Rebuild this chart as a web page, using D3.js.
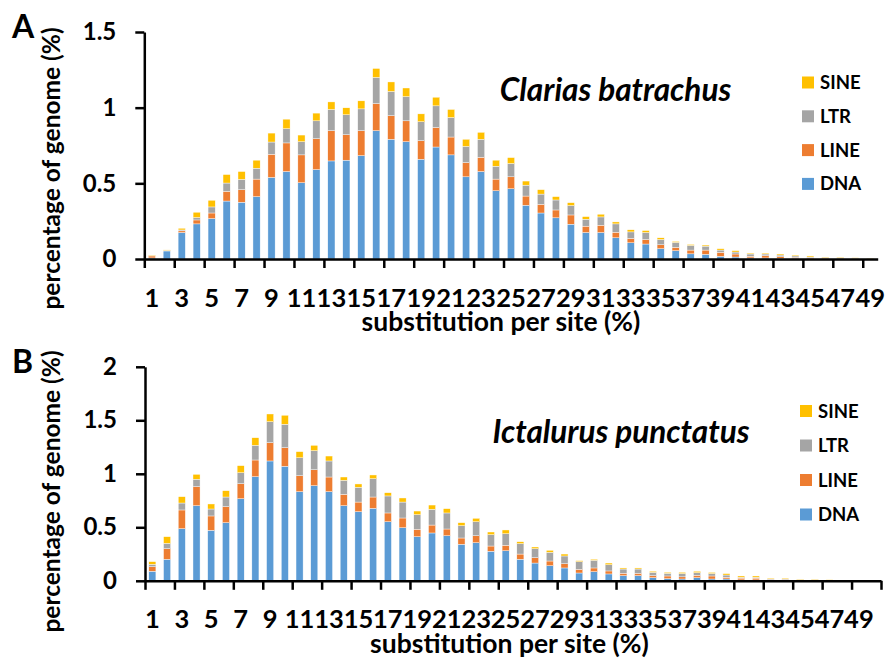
<!DOCTYPE html>
<html lang="en">
<head>
<meta charset="UTF-8">
<title>Substitution per site</title>
<script src="https://cdn.jsdelivr.net/npm/d3@7"></script>
<style>
  body { margin: 0; background: #fff; }
  svg { display: block; font-family: Lato, "Open Sans", sans-serif; font-weight: bold; }
  .axis path, .axis line { stroke: #000; stroke-width: 2.5; }
  .axis text { font-family: Lato, sans-serif; font-weight: bold; fill: #000; }
</style>
</head>
<body>
<svg width="886" height="658"></svg>
<script>
// series order bottom -> top
const series = ['DNA', 'LINE', 'LTR', 'SINE'];
const colors = { DNA: '#5B9BD5', LINE: '#ED7D31', LTR: '#A5A5A5', SINE: '#FFC000' };

// Panel A: Clarias batrachus, substitution 1..49 (%)
const catsA = d3.range(1, 50);
const dnaA  = [0.007,0.053,0.175,0.232,0.267,0.383,0.375,0.412,0.539,0.578,0.504,0.591,0.648,0.653,0.683,0.848,0.791,0.775,0.659,0.740,
               0.688,0.543,0.578,0.451,0.464,0.355,0.304,0.272,0.230,0.175,0.175,0.140,0.107,0.099,0.068,0.055,0.034,0.031,0.018,0.013,
               0.007,0.007,0.005,0.004,0.003,0.002,0.002,0.001,0.001];
const lineA = [0.013,0.002,0.011,0.026,0.037,0.064,0.083,0.116,0.153,0.189,0.184,0.204,0.200,0.168,0.165,0.179,0.156,0.138,0.123,0.129,
               0.118,0.094,0.094,0.077,0.079,0.061,0.057,0.052,0.061,0.042,0.048,0.037,0.029,0.030,0.026,0.022,0.025,0.028,0.026,0.020,
               0.011,0.015,0.010,0.007,0.006,0.004,0.003,0.002,0.002];
const ltrA  = [0.003,0.002,0.006,0.016,0.040,0.055,0.068,0.072,0.081,0.094,0.087,0.118,0.140,0.132,0.144,0.173,0.160,0.160,0.125,0.143,
               0.129,0.107,0.119,0.085,0.088,0.072,0.068,0.066,0.062,0.046,0.055,0.055,0.043,0.046,0.035,0.033,0.031,0.026,0.015,0.013,
               0.015,0.011,0.011,0.009,0.004,0.004,0.003,0.002,0.001];
const sineA = [0.003,0.003,0.011,0.035,0.044,0.056,0.052,0.053,0.059,0.063,0.044,0.051,0.050,0.046,0.053,0.059,0.063,0.057,0.052,0.057,
               0.053,0.047,0.046,0.040,0.039,0.027,0.029,0.022,0.019,0.017,0.018,0.013,0.014,0.013,0.011,0.006,0.006,0.007,0.009,0.009,
               0.006,0.006,0.007,0.006,0.007,0.003,0.003,0.003,0.002];

// Panel B: Ictalurus punctatus, substitution 1..50 (%)
const catsB = d3.range(1, 51);
const dnaB  = [0.089,0.201,0.487,0.702,0.472,0.543,0.767,0.973,1.120,1.070,0.833,0.889,0.833,0.702,0.646,0.677,0.552,0.496,0.412,0.447,
               0.421,0.341,0.356,0.276,0.281,0.201,0.166,0.141,0.120,0.073,0.085,0.064,0.048,0.048,0.029,0.020,0.017,0.029,0.017,0.017,
               0.008,0.008,0.004,0.004,0.002,0.002,0.001,0.001,0.000,0.000];
const lineB = [0.043,0.099,0.175,0.178,0.134,0.150,0.141,0.156,0.171,0.174,0.149,0.149,0.137,0.106,0.090,0.106,0.082,0.091,0.069,0.074,
               0.063,0.059,0.065,0.049,0.051,0.049,0.050,0.044,0.040,0.034,0.035,0.028,0.022,0.022,0.019,0.025,0.020,0.022,0.028,0.016,
               0.017,0.017,0.008,0.008,0.005,0.005,0.003,0.002,0.001,0.000];
const ltrB  = [0.022,0.050,0.065,0.069,0.065,0.090,0.102,0.137,0.196,0.219,0.168,0.178,0.150,0.131,0.138,0.171,0.159,0.149,0.137,0.147,
               0.150,0.115,0.131,0.106,0.108,0.097,0.084,0.081,0.072,0.072,0.072,0.058,0.040,0.040,0.031,0.025,0.031,0.025,0.023,0.021,
               0.008,0.008,0.006,0.006,0.003,0.003,0.002,0.001,0.001,0.000];
const sineB = [0.025,0.062,0.059,0.046,0.047,0.059,0.066,0.071,0.072,0.084,0.057,0.050,0.046,0.031,0.031,0.035,0.030,0.038,0.034,0.040,
               0.040,0.028,0.032,0.025,0.035,0.018,0.016,0.019,0.018,0.009,0.009,0.016,0.010,0.010,0.010,0.009,0.011,0.013,0.010,0.013,
               0.012,0.012,0.008,0.008,0.004,0.004,0.004,0.002,0.001,0.000];

const svg = d3.select('svg');

function drawPanel(o) {
  const n = o.cats.length;
  const rows = o.cats.map((c, i) => ({ cat: c, DNA: o.dna[i], LINE: o.line[i], LTR: o.ltr[i], SINE: o.sine[i] }));
  const stack = d3.stack().keys(series)(rows);

  const x = d3.scaleBand().domain(o.cats).range([o.left, o.right]).paddingInner(0.52).paddingOuter(0.26);
  const y = d3.scaleLinear().domain([0, o.yMax]).range([o.zero, o.top]);
  const g = svg.append('g');

  g.selectAll('g.layer')
    .data(stack)
    .enter().append('g')
    .attr('class', 'layer')
    .attr('fill', d => colors[d.key])
    .selectAll('rect')
    .data(d => d)
    .enter().append('rect')
    .attr('x', d => x(d.data.cat))
    .attr('width', x.bandwidth())
    .attr('y', d => y(d[1]))
    .attr('height', d => Math.max(0, y(d[0]) - y(d[1])))
    .attr('stroke', '#fff')
    .attr('stroke-width', 0.4);

  // y axis
  g.append('g')
    .attr('class', 'axis')
    .attr('transform', `translate(${o.left},0)`)
    .call(d3.axisLeft(y).tickValues(o.yTicks).tickFormat(d => d).tickSize(9).tickSizeOuter(0).tickPadding(19))
    .call(a => a.selectAll('text').attr('font-size', 24));

  // x axis: marks every second category boundary
  const edge = d3.scaleLinear().domain([0, n]).range([o.left, o.right]);
  const edgeTicks = d3.range(0, n + 1, 2);
  g.append('g')
    .attr('class', 'axis')
    .attr('transform', `translate(0,${o.zero})`)
    .call(d3.axisBottom(edge).tickValues(edgeTicks).tickFormat('').tickSize(9).tickSizeOuter(0));

  g.selectAll('text.xlab')
    .data(o.cats.filter(c => c % 2 === 1))
    .enter().append('text')
    .attr('class', 'xlab')
    .attr('x', d => x(d) + x.bandwidth() / 2)
    .attr('y', o.zero + 47.5)
    .attr('text-anchor', 'middle')
    .attr('font-size', 25.5)
    .text(d => d);

  g.append('text')
    .attr('x', o.xTitleX).attr('y', o.zero + 72)
    .attr('text-anchor', 'middle')
    .attr('font-size', 26.5)
    .text('substitution per site (%)');

  g.append('text')
    .attr('transform', `translate(60,${o.yTitleY}) rotate(-90)`)
    .attr('text-anchor', 'middle')
    .attr('font-size', 24.5)
    .text('percentage of genome (%)');

  g.append('text')
    .attr('x', 12).attr('y', o.letterY)
    .attr('font-size', 32)
    .text(o.letter);

  g.append('text')
    .attr('x', o.titleX).attr('y', o.titleY)
    .attr('text-anchor', 'middle')
    .attr('font-style', 'italic')
    .attr('font-size', 31.5)
    .text(o.title);

  const leg = g.selectAll('g.leg')
    .data(series.slice().reverse())
    .enter().append('g')
    .attr('transform', (d, i) => `translate(${o.legX},${o.legY + i * o.legStep})`);
  leg.append('rect')
    .attr('x', 0).attr('y', -6).attr('width', 12).attr('height', 12)
    .attr('fill', d => colors[d]);
  leg.append('text')
    .attr('x', 18).attr('y', 6.5)
    .attr('font-size', 18.5)
    .text(d => d);
}

drawPanel({
  cats: catsA, dna: dnaA, line: lineA, ltr: ltrA, sine: sineA,
  left: 144.3, right: 877.7, zero: 259, top: 32, yMax: 1.5, yTicks: [0, 0.5, 1, 1.5],
  xTitleX: 501, yTitleY: 168.5, letter: 'A', letterY: 38,
  title: 'Clarias batrachus', titleX: 615.5, titleY: 101,
  legX: 802, legY: 82.5, legStep: 33.8
});

drawPanel({
  cats: catsB, dna: dnaB, line: lineB, ltr: ltrB, sine: sineB,
  left: 145, right: 881, zero: 580.8, top: 366.8, yMax: 2, yTicks: [0, 0.5, 1, 1.5, 2],
  xTitleX: 509.5, yTitleY: 491.5, letter: 'B', letterY: 373,
  title: 'Ictalurus punctatus', titleX: 621, titleY: 443,
  legX: 800, legY: 411, legStep: 34.5
});
</script>
</body>
</html>
